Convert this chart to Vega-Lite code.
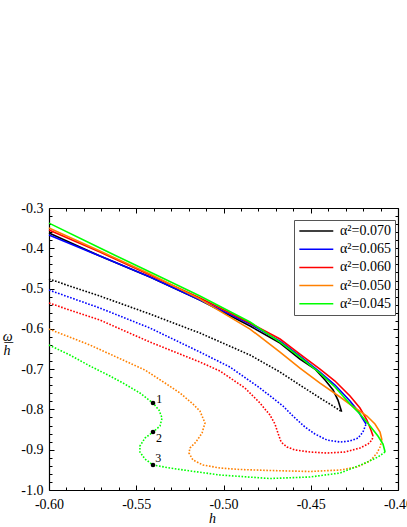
{
"$schema":"https://vega.github.io/schema/vega-lite/v6.json",
"width":349,"height":282,
"autosize":{"type":"none"},
"padding":{"left":49,"top":208,"right":9,"bottom":37},
"background":"white",
"config":{"view":{"stroke":null},"font":"Liberation Serif",
 "axis":{"grid":false,"labelFont":"Liberation Serif","labelFontSize":14,"labelColor":"#000","tickColor":"#000","domainColor":"#000","domainWidth":1.2,"tickWidth":1,"titleFont":"Liberation Serif","titleFontSize":14,"titleFontWeight":"normal","titleColor":"#000","labelOverlap":false,"labelFlush":false},
 "legend":{"orient":"none","legendX":245,"legendY":12,"strokeColor":"#555","padding":4,"symbolType":"M-1,0L5,0","symbolSize":128,"symbolStrokeWidth":1.5,"labelFont":"Liberation Serif","labelFontSize":14,"labelColor":"#000","labelOffset":28,"rowPadding":4.2,"fillColor":"white"}
},
"datasets":{"curves":[
{"s":"α²=0.070","t":"s","i":1,"h":-0.6,"w":-0.3623},{"s":"α²=0.070","t":"s","i":2,"h":-0.5708,"w":-0.4194},{"s":"α²=0.070","t":"s","i":3,"h":-0.5421,"w":-0.4715},{"s":"α²=0.070","t":"s","i":4,"h":-0.5135,"w":-0.5285},{"s":"α²=0.070","t":"s","i":5,"h":-0.4848,"w":-0.5931},{"s":"α²=0.070","t":"s","i":6,"h":-0.4676,"w":-0.6352},{"s":"α²=0.070","t":"s","i":7,"h":-0.4562,"w":-0.6749},{"s":"α²=0.070","t":"s","i":8,"h":-0.4476,"w":-0.6998},{"s":"α²=0.070","t":"s","i":9,"h":-0.4418,"w":-0.727},{"s":"α²=0.070","t":"s","i":10,"h":-0.4372,"w":-0.7519},{"s":"α²=0.070","t":"s","i":11,"h":-0.4344,"w":-0.7767},{"s":"α²=0.070","t":"s","i":12,"h":-0.4323,"w":-0.8057},
{"s":"α²=0.070","t":"d","i":1,"h":-0.6,"w":-0.4764},{"s":"α²=0.070","t":"d","i":2,"h":-0.5708,"w":-0.5186},{"s":"α²=0.070","t":"d","i":3,"h":-0.5421,"w":-0.5633},{"s":"α²=0.070","t":"d","i":4,"h":-0.5135,"w":-0.6104},{"s":"α²=0.070","t":"d","i":5,"h":-0.4848,"w":-0.665},{"s":"α²=0.070","t":"d","i":6,"h":-0.4676,"w":-0.7072},{"s":"α²=0.070","t":"d","i":7,"h":-0.4562,"w":-0.7395},{"s":"α²=0.070","t":"d","i":8,"h":-0.4447,"w":-0.7717},{"s":"α²=0.070","t":"d","i":9,"h":-0.4372,"w":-0.7916},{"s":"α²=0.070","t":"d","i":10,"h":-0.4323,"w":-0.8057},
{"s":"α²=0.065","t":"s","i":1,"h":-0.6,"w":-0.3672},{"s":"α²=0.065","t":"s","i":2,"h":-0.5708,"w":-0.4194},{"s":"α²=0.065","t":"s","i":3,"h":-0.5421,"w":-0.4715},{"s":"α²=0.065","t":"s","i":4,"h":-0.5135,"w":-0.5285},{"s":"α²=0.065","t":"s","i":5,"h":-0.4848,"w":-0.5881},{"s":"α²=0.065","t":"s","i":6,"h":-0.4676,"w":-0.6303},{"s":"α²=0.065","t":"s","i":7,"h":-0.4562,"w":-0.6675},{"s":"α²=0.065","t":"s","i":8,"h":-0.4447,"w":-0.7072},{"s":"α²=0.065","t":"s","i":9,"h":-0.4361,"w":-0.7395},{"s":"α²=0.065","t":"s","i":10,"h":-0.4275,"w":-0.7792},{"s":"α²=0.065","t":"s","i":11,"h":-0.4229,"w":-0.804},{"s":"α²=0.065","t":"s","i":12,"h":-0.4201,"w":-0.8238},{"s":"α²=0.065","t":"s","i":13,"h":-0.4183,"w":-0.8362},
{"s":"α²=0.065","t":"d","i":1,"h":-0.6,"w":-0.5037},{"s":"α²=0.065","t":"d","i":2,"h":-0.5708,"w":-0.5484},{"s":"α²=0.065","t":"d","i":3,"h":-0.5421,"w":-0.598},{"s":"α²=0.065","t":"d","i":4,"h":-0.5135,"w":-0.6576},{"s":"α²=0.065","t":"d","i":5,"h":-0.4963,"w":-0.6948},{"s":"α²=0.065","t":"d","i":6,"h":-0.4791,"w":-0.7469},{"s":"α²=0.065","t":"d","i":7,"h":-0.4659,"w":-0.7916},{"s":"α²=0.065","t":"d","i":8,"h":-0.4602,"w":-0.8164},{"s":"α²=0.065","t":"d","i":9,"h":-0.4533,"w":-0.8437},{"s":"α²=0.065","t":"d","i":10,"h":-0.4476,"w":-0.861},{"s":"α²=0.065","t":"d","i":11,"h":-0.4407,"w":-0.8759},{"s":"α²=0.065","t":"d","i":12,"h":-0.4332,"w":-0.8809},{"s":"α²=0.065","t":"d","i":13,"h":-0.4275,"w":-0.8784},{"s":"α²=0.065","t":"d","i":14,"h":-0.4229,"w":-0.871},{"s":"α²=0.065","t":"d","i":15,"h":-0.4201,"w":-0.8561},{"s":"α²=0.065","t":"d","i":16,"h":-0.4183,"w":-0.8362},
{"s":"α²=0.060","t":"s","i":1,"h":-0.6,"w":-0.3548},{"s":"α²=0.060","t":"s","i":2,"h":-0.5708,"w":-0.4094},{"s":"α²=0.060","t":"s","i":3,"h":-0.5421,"w":-0.4665},{"s":"α²=0.060","t":"s","i":4,"h":-0.5135,"w":-0.5236},{"s":"α²=0.060","t":"s","i":5,"h":-0.4848,"w":-0.5856},{"s":"α²=0.060","t":"s","i":6,"h":-0.4676,"w":-0.6253},{"s":"α²=0.060","t":"s","i":7,"h":-0.4562,"w":-0.6625},{"s":"α²=0.060","t":"s","i":8,"h":-0.4447,"w":-0.6998},{"s":"α²=0.060","t":"s","i":9,"h":-0.4361,"w":-0.7295},{"s":"α²=0.060","t":"s","i":10,"h":-0.4275,"w":-0.7667},{"s":"α²=0.060","t":"s","i":11,"h":-0.4218,"w":-0.7965},{"s":"α²=0.060","t":"s","i":12,"h":-0.4178,"w":-0.8263},{"s":"α²=0.060","t":"s","i":13,"h":-0.4155,"w":-0.8511},{"s":"α²=0.060","t":"s","i":14,"h":-0.4143,"w":-0.866},
{"s":"α²=0.060","t":"d","i":1,"h":-0.6,"w":-0.536},{"s":"α²=0.060","t":"d","i":2,"h":-0.5708,"w":-0.5782},{"s":"α²=0.060","t":"d","i":3,"h":-0.5421,"w":-0.6328},{"s":"α²=0.060","t":"d","i":4,"h":-0.5135,"w":-0.6824},{"s":"α²=0.060","t":"d","i":5,"h":-0.502,"w":-0.7047},{"s":"α²=0.060","t":"d","i":6,"h":-0.4877,"w":-0.7469},{"s":"α²=0.060","t":"d","i":7,"h":-0.4791,"w":-0.7841},{"s":"α²=0.060","t":"d","i":8,"h":-0.4734,"w":-0.8139},{"s":"α²=0.060","t":"d","i":9,"h":-0.4705,"w":-0.8362},{"s":"α²=0.060","t":"d","i":10,"h":-0.4688,"w":-0.8586},{"s":"α²=0.060","t":"d","i":11,"h":-0.467,"w":-0.8809},{"s":"α²=0.060","t":"d","i":12,"h":-0.4636,"w":-0.8933},{"s":"α²=0.060","t":"d","i":13,"h":-0.459,"w":-0.9007},{"s":"α²=0.060","t":"d","i":14,"h":-0.4504,"w":-0.9057},{"s":"α²=0.060","t":"d","i":15,"h":-0.4407,"w":-0.9082},{"s":"α²=0.060","t":"d","i":16,"h":-0.4304,"w":-0.9057},{"s":"α²=0.060","t":"d","i":17,"h":-0.4218,"w":-0.8958},{"s":"α²=0.060","t":"d","i":18,"h":-0.4172,"w":-0.8859},{"s":"α²=0.060","t":"d","i":19,"h":-0.4149,"w":-0.8759},{"s":"α²=0.060","t":"d","i":20,"h":-0.4143,"w":-0.866},
{"s":"α²=0.050","t":"s","i":1,"h":-0.6,"w":-0.3499},{"s":"α²=0.050","t":"s","i":2,"h":-0.5708,"w":-0.4069},{"s":"α²=0.050","t":"s","i":3,"h":-0.5421,"w":-0.464},{"s":"α²=0.050","t":"s","i":4,"h":-0.5135,"w":-0.5261},{"s":"α²=0.050","t":"s","i":5,"h":-0.4848,"w":-0.6005},{"s":"α²=0.050","t":"s","i":6,"h":-0.4676,"w":-0.6576},{"s":"α²=0.050","t":"s","i":7,"h":-0.4562,"w":-0.6973},{"s":"α²=0.050","t":"s","i":8,"h":-0.4447,"w":-0.7345},{"s":"α²=0.050","t":"s","i":9,"h":-0.4332,"w":-0.7692},{"s":"α²=0.050","t":"s","i":10,"h":-0.4246,"w":-0.7965},{"s":"α²=0.050","t":"s","i":11,"h":-0.4178,"w":-0.8164},{"s":"α²=0.050","t":"s","i":12,"h":-0.4132,"w":-0.8362},{"s":"α²=0.050","t":"s","i":13,"h":-0.4103,"w":-0.8561},{"s":"α²=0.050","t":"s","i":14,"h":-0.4092,"w":-0.8759},
{"s":"α²=0.050","t":"d","i":1,"h":-0.6,"w":-0.6005},{"s":"α²=0.050","t":"d","i":2,"h":-0.5765,"w":-0.6402},{"s":"α²=0.050","t":"d","i":3,"h":-0.5576,"w":-0.6774},{"s":"α²=0.050","t":"d","i":4,"h":-0.545,"w":-0.7022},{"s":"α²=0.050","t":"d","i":5,"h":-0.5335,"w":-0.7345},{"s":"α²=0.050","t":"d","i":6,"h":-0.5249,"w":-0.7593},{"s":"α²=0.050","t":"d","i":7,"h":-0.5175,"w":-0.7866},{"s":"α²=0.050","t":"d","i":8,"h":-0.5135,"w":-0.804},{"s":"α²=0.050","t":"d","i":9,"h":-0.5106,"w":-0.8337},{"s":"α²=0.050","t":"d","i":10,"h":-0.5123,"w":-0.8586},{"s":"α²=0.050","t":"d","i":11,"h":-0.5158,"w":-0.8809},{"s":"α²=0.050","t":"d","i":12,"h":-0.5192,"w":-0.8958},{"s":"α²=0.050","t":"d","i":13,"h":-0.5198,"w":-0.9082},{"s":"α²=0.050","t":"d","i":14,"h":-0.5175,"w":-0.9256},{"s":"α²=0.050","t":"d","i":15,"h":-0.5117,"w":-0.938},{"s":"α²=0.050","t":"d","i":16,"h":-0.502,"w":-0.9454},{"s":"α²=0.050","t":"d","i":17,"h":-0.4905,"w":-0.9491},{"s":"α²=0.050","t":"d","i":18,"h":-0.4734,"w":-0.9516},{"s":"α²=0.050","t":"d","i":19,"h":-0.4504,"w":-0.9541},{"s":"α²=0.050","t":"d","i":20,"h":-0.4332,"w":-0.9504},{"s":"α²=0.050","t":"d","i":21,"h":-0.4235,"w":-0.9429},{"s":"α²=0.050","t":"d","i":22,"h":-0.416,"w":-0.928},{"s":"α²=0.050","t":"d","i":23,"h":-0.412,"w":-0.9082},{"s":"α²=0.050","t":"d","i":24,"h":-0.4103,"w":-0.8933},{"s":"α²=0.050","t":"d","i":25,"h":-0.4092,"w":-0.8759},
{"s":"α²=0.045","t":"s","i":1,"h":-0.6,"w":-0.3375},{"s":"α²=0.045","t":"s","i":2,"h":-0.5708,"w":-0.3995},{"s":"α²=0.045","t":"s","i":3,"h":-0.5421,"w":-0.4591},{"s":"α²=0.045","t":"s","i":4,"h":-0.5135,"w":-0.5186},{"s":"α²=0.045","t":"s","i":5,"h":-0.4848,"w":-0.5831},{"s":"α²=0.045","t":"s","i":6,"h":-0.4676,"w":-0.6328},{"s":"α²=0.045","t":"s","i":7,"h":-0.4562,"w":-0.67},{"s":"α²=0.045","t":"s","i":8,"h":-0.4447,"w":-0.7097},{"s":"α²=0.045","t":"s","i":9,"h":-0.4361,"w":-0.7444},{"s":"α²=0.045","t":"s","i":10,"h":-0.4275,"w":-0.7866},{"s":"α²=0.045","t":"s","i":11,"h":-0.4218,"w":-0.8114},{"s":"α²=0.045","t":"s","i":12,"h":-0.416,"w":-0.8412},{"s":"α²=0.045","t":"s","i":13,"h":-0.4115,"w":-0.866},{"s":"α²=0.045","t":"s","i":14,"h":-0.4086,"w":-0.8859},{"s":"α²=0.045","t":"s","i":15,"h":-0.4074,"w":-0.9057},
{"s":"α²=0.045","t":"d","i":1,"h":-0.6,"w":-0.6402},{"s":"α²=0.045","t":"d","i":2,"h":-0.588,"w":-0.665},{"s":"α²=0.045","t":"d","i":3,"h":-0.5765,"w":-0.6923},{"s":"α²=0.045","t":"d","i":4,"h":-0.565,"w":-0.7171},{"s":"α²=0.045","t":"d","i":5,"h":-0.5576,"w":-0.7345},{"s":"α²=0.045","t":"d","i":6,"h":-0.5479,"w":-0.7593},{"s":"α²=0.045","t":"d","i":7,"h":-0.5404,"w":-0.7841},{"s":"α²=0.045","t":"d","i":8,"h":-0.537,"w":-0.8015},{"s":"α²=0.045","t":"d","i":9,"h":-0.5352,"w":-0.8213},{"s":"α²=0.045","t":"d","i":10,"h":-0.5364,"w":-0.8412},{"s":"α²=0.045","t":"d","i":11,"h":-0.5404,"w":-0.8561},{"s":"α²=0.045","t":"d","i":12,"h":-0.545,"w":-0.871},{"s":"α²=0.045","t":"d","i":13,"h":-0.5479,"w":-0.8908},{"s":"α²=0.045","t":"d","i":14,"h":-0.5479,"w":-0.9057},{"s":"α²=0.045","t":"d","i":15,"h":-0.545,"w":-0.9231},{"s":"α²=0.045","t":"d","i":16,"h":-0.5404,"w":-0.938},{"s":"α²=0.045","t":"d","i":17,"h":-0.5307,"w":-0.9454},{"s":"α²=0.045","t":"d","i":18,"h":-0.5209,"w":-0.9516},{"s":"α²=0.045","t":"d","i":19,"h":-0.502,"w":-0.9628},{"s":"α²=0.045","t":"d","i":20,"h":-0.4734,"w":-0.9715},{"s":"α²=0.045","t":"d","i":21,"h":-0.4504,"w":-0.9677},{"s":"α²=0.045","t":"d","i":22,"h":-0.4332,"w":-0.9578},{"s":"α²=0.045","t":"d","i":23,"h":-0.4201,"w":-0.9355},{"s":"α²=0.045","t":"d","i":24,"h":-0.4115,"w":-0.9181},{"s":"α²=0.045","t":"d","i":25,"h":-0.4074,"w":-0.9057}
]},
"layer":[
{"data":{"name":"curves"},"transform":[{"filter":"datum.t==='d'"}],
 "mark":{"type":"line","strokeWidth":1.6,"strokeDash":[1.6,1.6]},
 "encoding":{
  "x":{"field":"h","type":"quantitative","scale":{"domain":[-0.6,-0.4],"nice":false,"zero":false},
   "axis":{"orient":"bottom","values":[-0.59,-0.58,-0.57,-0.56,-0.54,-0.53,-0.52,-0.51,-0.49,-0.48,-0.47,-0.46,-0.44,-0.43,-0.42,-0.41],"labels":false,"tickSize":-3,"domain":false,"title":null}},
  "y":{"field":"w","type":"quantitative","scale":{"domain":[-1,-0.3],"nice":false,"zero":false},
   "axis":{"orient":"left","values":[-0.98,-0.96,-0.94,-0.92,-0.88,-0.86,-0.84,-0.82,-0.78,-0.76,-0.74,-0.72,-0.68,-0.66,-0.64,-0.62,-0.58,-0.56,-0.54,-0.52,-0.48,-0.46,-0.44,-0.42,-0.38,-0.36,-0.34,-0.32],"labels":false,"tickSize":-3,"domain":false,"title":"h","titleAngle":0,"titleX":-42.5,"titleY":146.5,"titleAlign":"center","titleBaseline":"alphabetic","titleFontStyle":"italic"}},
  "color":{"field":"s","type":"nominal","scale":{"domain":["α²=0.070","α²=0.065","α²=0.060","α²=0.050","α²=0.045"],"range":["#000000","#0000FF","#FF0000","#FF8000","#00FF00"]},"legend":{"title":null}},
  "detail":{"field":"t"},
  "order":{"field":"i","type":"quantitative"}}},
{"data":{"name":"curves"},"transform":[{"filter":"datum.t==='s'"}],
 "mark":{"type":"line","strokeWidth":1.6},
 "encoding":{
  "x":{"field":"h","type":"quantitative","scale":{"domain":[-0.6,-0.4],"nice":false,"zero":false},
   "axis":{"orient":"bottom","values":[-0.6,-0.55,-0.5,-0.45,-0.4],"format":".2f","labelExpr":"replace(datum.label,'\u2212','-')","tickSize":-5,"labelPadding":12,"title":"h","titleFontStyle":"italic","titleX":163,"titleY":32,"titleAlign":"center","titleBaseline":"alphabetic"}},
  "y":{"field":"w","type":"quantitative","scale":{"domain":[-1,-0.3],"nice":false,"zero":false},
   "axis":{"orient":"left","values":[-1,-0.9,-0.8,-0.7,-0.6,-0.5,-0.4,-0.3],"format":".1f","labelExpr":"replace(datum.label,'\u2212','-')","tickSize":-5,"labelPadding":11,"title":"ω","titleAngle":0,"titleX":-41.7,"titleY":132,"titleAlign":"center","titleBaseline":"alphabetic","titleFontStyle":"italic"}},
  "color":{"field":"s","type":"nominal","scale":{"domain":["α²=0.070","α²=0.065","α²=0.060","α²=0.050","α²=0.045"],"range":["#000000","#0000FF","#FF0000","#FF8000","#00FF00"]},"legend":{"title":null}},
  "order":{"field":"i","type":"quantitative"}}},
{"data":{"values":[{"h":-0.5404,"w":-0.7841},{"h":-0.5404,"w":-0.8561},{"h":-0.5404,"w":-0.938}]},
 "mark":{"type":"circle","color":"#000","size":22,"opacity":1},
 "encoding":{
  "x":{"field":"h","type":"quantitative","scale":{"domain":[-0.6,-0.4],"nice":false,"zero":false},
   "axis":{"orient":"top","values":[-0.6,-0.55,-0.5,-0.45,-0.4],"labels":false,"tickSize":-5,"title":null}},
  "y":{"field":"w","type":"quantitative","scale":{"domain":[-1,-0.3],"nice":false,"zero":false},
   "axis":{"orient":"right","values":[-1,-0.9,-0.8,-0.7,-0.6,-0.5,-0.4,-0.3],"labels":false,"tickSize":-5,"title":"—","titleAngle":0,"titleX":-389.7,"titleY":136.4,"titleAlign":"center","titleBaseline":"alphabetic","titleFont":"DejaVu Sans","titleFontSize":10}}}},
{"data":{"values":[{"h":-0.5368,"w":-0.775,"lab":"1"},{"h":-0.537,"w":-0.87,"lab":"2"},{"h":-0.5374,"w":-0.92,"lab":"3"}]},
 "mark":{"type":"text","font":"Liberation Serif","fontSize":12,"align":"center","baseline":"middle","color":"#000"},
 "encoding":{
  "text":{"field":"lab"},
  "x":{"field":"h","type":"quantitative","scale":{"domain":[-0.6,-0.4],"nice":false,"zero":false},
   "axis":{"orient":"top","values":[-0.59,-0.58,-0.57,-0.56,-0.54,-0.53,-0.52,-0.51,-0.49,-0.48,-0.47,-0.46,-0.44,-0.43,-0.42,-0.41],"labels":false,"tickSize":-3,"domain":false,"title":null}},
  "y":{"field":"w","type":"quantitative","scale":{"domain":[-1,-0.3],"nice":false,"zero":false},
   "axis":{"orient":"right","values":[-0.98,-0.96,-0.94,-0.92,-0.88,-0.86,-0.84,-0.82,-0.78,-0.76,-0.74,-0.72,-0.68,-0.66,-0.64,-0.62,-0.58,-0.56,-0.54,-0.52,-0.48,-0.46,-0.44,-0.42,-0.38,-0.36,-0.34,-0.32],"labels":false,"tickSize":-3,"domain":false,"title":null}}}}
],
"resolve":{"axis":{"x":"independent","y":"independent"}}
}
